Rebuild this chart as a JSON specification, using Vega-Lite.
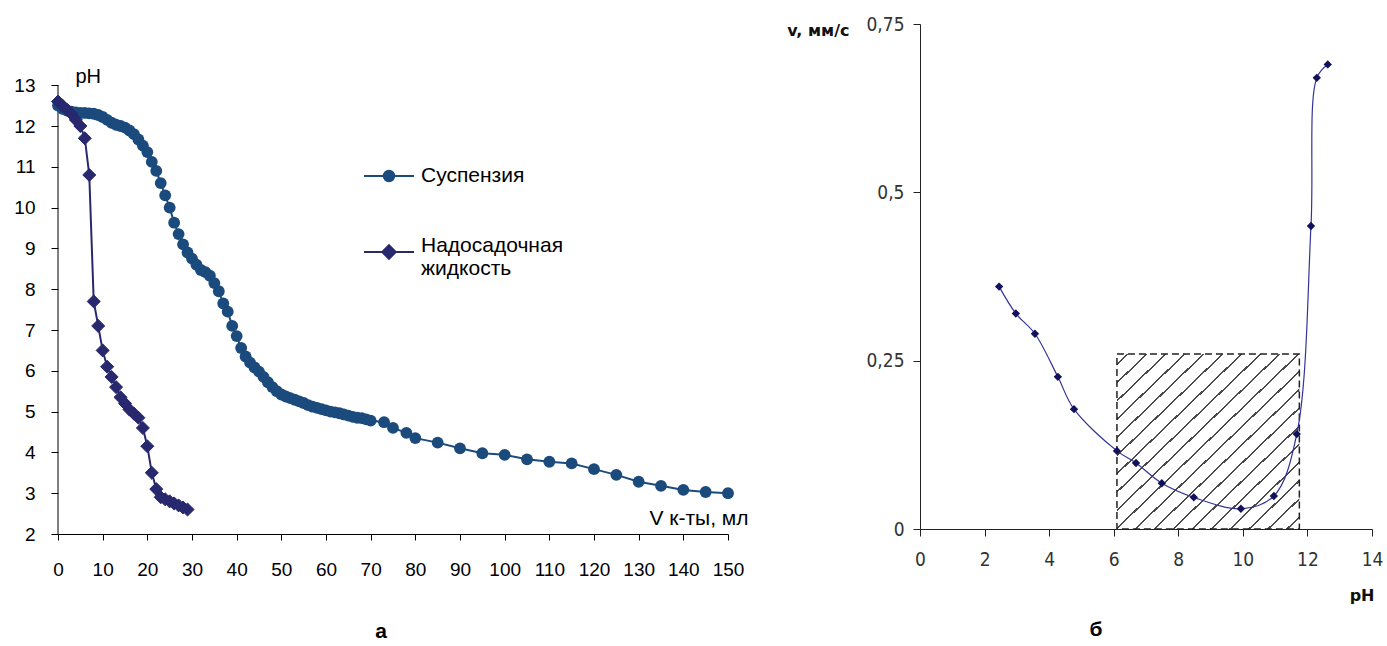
{
  "$schema": "https://vega.github.io/schema/vega-lite/v6.json",
  "background": "white",
  "padding": {"left": 13, "top": 15, "right": 0, "bottom": 0},
  "bounds": "flush",
  "spacing": 192,
  "config": {"view": {"stroke": null}, "axis": {"grid": false}},
  "datasets": {
    "titration": [
      {"series": "Суспензия", "V": 0, "pH": 12.5},
      {"series": "Суспензия", "V": 1, "pH": 12.42},
      {"series": "Суспензия", "V": 2, "pH": 12.38},
      {"series": "Суспензия", "V": 3, "pH": 12.35},
      {"series": "Суспензия", "V": 4, "pH": 12.33},
      {"series": "Суспензия", "V": 5, "pH": 12.32},
      {"series": "Суспензия", "V": 6, "pH": 12.32},
      {"series": "Суспензия", "V": 7, "pH": 12.31},
      {"series": "Суспензия", "V": 8, "pH": 12.3},
      {"series": "Суспензия", "V": 9, "pH": 12.27},
      {"series": "Суспензия", "V": 10, "pH": 12.22},
      {"series": "Суспензия", "V": 11, "pH": 12.15},
      {"series": "Суспензия", "V": 12, "pH": 12.08},
      {"series": "Суспензия", "V": 13, "pH": 12.03},
      {"series": "Суспензия", "V": 14, "pH": 12.0},
      {"series": "Суспензия", "V": 15, "pH": 11.96},
      {"series": "Суспензия", "V": 16, "pH": 11.89},
      {"series": "Суспензия", "V": 17, "pH": 11.8},
      {"series": "Суспензия", "V": 18, "pH": 11.67},
      {"series": "Суспензия", "V": 19, "pH": 11.52},
      {"series": "Суспензия", "V": 20, "pH": 11.36},
      {"series": "Суспензия", "V": 21, "pH": 11.12},
      {"series": "Суспензия", "V": 22, "pH": 10.9},
      {"series": "Суспензия", "V": 23, "pH": 10.6},
      {"series": "Суспензия", "V": 24, "pH": 10.3},
      {"series": "Суспензия", "V": 25, "pH": 10.0},
      {"series": "Суспензия", "V": 26, "pH": 9.63},
      {"series": "Суспензия", "V": 27, "pH": 9.35},
      {"series": "Суспензия", "V": 28, "pH": 9.1},
      {"series": "Суспензия", "V": 29, "pH": 8.9},
      {"series": "Суспензия", "V": 30, "pH": 8.75},
      {"series": "Суспензия", "V": 31, "pH": 8.6},
      {"series": "Суспензия", "V": 32, "pH": 8.47},
      {"series": "Суспензия", "V": 33, "pH": 8.42},
      {"series": "Суспензия", "V": 34, "pH": 8.33},
      {"series": "Суспензия", "V": 35, "pH": 8.15},
      {"series": "Суспензия", "V": 36, "pH": 7.95},
      {"series": "Суспензия", "V": 37, "pH": 7.65},
      {"series": "Суспензия", "V": 38, "pH": 7.45},
      {"series": "Суспензия", "V": 39, "pH": 7.1},
      {"series": "Суспензия", "V": 40, "pH": 6.85},
      {"series": "Суспензия", "V": 41, "pH": 6.56},
      {"series": "Суспензия", "V": 42, "pH": 6.35},
      {"series": "Суспензия", "V": 43, "pH": 6.2},
      {"series": "Суспензия", "V": 44, "pH": 6.08},
      {"series": "Суспензия", "V": 45, "pH": 5.98},
      {"series": "Суспензия", "V": 46, "pH": 5.85},
      {"series": "Суспензия", "V": 47, "pH": 5.72},
      {"series": "Суспензия", "V": 48, "pH": 5.6},
      {"series": "Суспензия", "V": 49, "pH": 5.5},
      {"series": "Суспензия", "V": 50, "pH": 5.42},
      {"series": "Суспензия", "V": 51, "pH": 5.37},
      {"series": "Суспензия", "V": 52, "pH": 5.33},
      {"series": "Суспензия", "V": 53, "pH": 5.29},
      {"series": "Суспензия", "V": 54, "pH": 5.25},
      {"series": "Суспензия", "V": 55, "pH": 5.21},
      {"series": "Суспензия", "V": 56, "pH": 5.16},
      {"series": "Суспензия", "V": 57, "pH": 5.12},
      {"series": "Суспензия", "V": 58, "pH": 5.09},
      {"series": "Суспензия", "V": 59, "pH": 5.06},
      {"series": "Суспензия", "V": 60, "pH": 5.03},
      {"series": "Суспензия", "V": 61, "pH": 5.0},
      {"series": "Суспензия", "V": 62, "pH": 4.98},
      {"series": "Суспензия", "V": 63, "pH": 4.96},
      {"series": "Суспензия", "V": 64, "pH": 4.93},
      {"series": "Суспензия", "V": 65, "pH": 4.9},
      {"series": "Суспензия", "V": 66, "pH": 4.87},
      {"series": "Суспензия", "V": 67, "pH": 4.85},
      {"series": "Суспензия", "V": 68, "pH": 4.84},
      {"series": "Суспензия", "V": 69, "pH": 4.81},
      {"series": "Суспензия", "V": 70, "pH": 4.78},
      {"series": "Суспензия", "V": 73, "pH": 4.74},
      {"series": "Суспензия", "V": 75, "pH": 4.6},
      {"series": "Суспензия", "V": 78, "pH": 4.48},
      {"series": "Суспензия", "V": 80, "pH": 4.35},
      {"series": "Суспензия", "V": 85, "pH": 4.24},
      {"series": "Суспензия", "V": 90, "pH": 4.1},
      {"series": "Суспензия", "V": 95, "pH": 3.98},
      {"series": "Суспензия", "V": 100, "pH": 3.94},
      {"series": "Суспензия", "V": 105, "pH": 3.83},
      {"series": "Суспензия", "V": 110, "pH": 3.77},
      {"series": "Суспензия", "V": 115, "pH": 3.73},
      {"series": "Суспензия", "V": 120, "pH": 3.59},
      {"series": "Суспензия", "V": 125, "pH": 3.45},
      {"series": "Суспензия", "V": 130, "pH": 3.28},
      {"series": "Суспензия", "V": 135, "pH": 3.18},
      {"series": "Суспензия", "V": 140, "pH": 3.08},
      {"series": "Суспензия", "V": 145, "pH": 3.03},
      {"series": "Суспензия", "V": 150, "pH": 3.0},
      {"series": "Надосадочная жидкость", "V": 0, "pH": 12.6},
      {"series": "Надосадочная жидкость", "V": 1, "pH": 12.5},
      {"series": "Надосадочная жидкость", "V": 2, "pH": 12.4},
      {"series": "Надосадочная жидкость", "V": 3, "pH": 12.3},
      {"series": "Надосадочная жидкость", "V": 4, "pH": 12.15},
      {"series": "Надосадочная жидкость", "V": 5, "pH": 12.0},
      {"series": "Надосадочная жидкость", "V": 6, "pH": 11.7},
      {"series": "Надосадочная жидкость", "V": 7, "pH": 10.8},
      {"series": "Надосадочная жидкость", "V": 8, "pH": 7.7},
      {"series": "Надосадочная жидкость", "V": 9, "pH": 7.1},
      {"series": "Надосадочная жидкость", "V": 10, "pH": 6.5},
      {"series": "Надосадочная жидкость", "V": 11, "pH": 6.1},
      {"series": "Надосадочная жидкость", "V": 12, "pH": 5.85},
      {"series": "Надосадочная жидкость", "V": 13, "pH": 5.6},
      {"series": "Надосадочная жидкость", "V": 14, "pH": 5.35},
      {"series": "Надосадочная жидкость", "V": 15, "pH": 5.2},
      {"series": "Надосадочная жидкость", "V": 16, "pH": 5.05},
      {"series": "Надосадочная жидкость", "V": 17, "pH": 4.95},
      {"series": "Надосадочная жидкость", "V": 18, "pH": 4.85},
      {"series": "Надосадочная жидкость", "V": 19, "pH": 4.6},
      {"series": "Надосадочная жидкость", "V": 20, "pH": 4.15},
      {"series": "Надосадочная жидкость", "V": 21, "pH": 3.5},
      {"series": "Надосадочная жидкость", "V": 22, "pH": 3.1},
      {"series": "Надосадочная жидкость", "V": 23, "pH": 2.9},
      {"series": "Надосадочная жидкость", "V": 24, "pH": 2.85},
      {"series": "Надосадочная жидкость", "V": 25, "pH": 2.8},
      {"series": "Надосадочная жидкость", "V": 26, "pH": 2.75},
      {"series": "Надосадочная жидкость", "V": 27, "pH": 2.7},
      {"series": "Надосадочная жидкость", "V": 28, "pH": 2.65},
      {"series": "Надосадочная жидкость", "V": 29, "pH": 2.6}
    ],
    "sedimentation": [
      {"pH": 2.45, "v": 0.36},
      {"pH": 2.97, "v": 0.32},
      {"pH": 3.56, "v": 0.29},
      {"pH": 4.27, "v": 0.226},
      {"pH": 4.77, "v": 0.178},
      {"pH": 6.1, "v": 0.116},
      {"pH": 6.69, "v": 0.098},
      {"pH": 7.49, "v": 0.068},
      {"pH": 8.48, "v": 0.047},
      {"pH": 9.94, "v": 0.03},
      {"pH": 10.96, "v": 0.049},
      {"pH": 11.67, "v": 0.141},
      {"pH": 12.11, "v": 0.45},
      {"pH": 12.29, "v": 0.67},
      {"pH": 12.63, "v": 0.69}
    ],
    "zone": [
      {"pH_from": 6.1, "pH_to": 11.75, "v_from": 0, "v_to": 0.26}
    ]
  },
  "hconcat": [
    {
      "width": 670,
      "height": 510,
      "title": {"text": "а", "orient": "bottom", "anchor": "middle", "font": "Liberation Sans", "fontSize": 21, "fontWeight": "bold", "color": "black", "offset": 42, "dx": -12},
      "layer": [
        {
          "data": {"values": [{}]},
          "mark": {"type": "rule", "color": "black", "strokeWidth": 1},
          "encoding": {
            "x": {"datum": 0, "type": "quantitative", "title": "V к-ты, мл"},
            "y": {"datum": 2, "type": "quantitative", "title": "pH"},
            "y2": {"datum": 13}
          }
        },
        {
          "data": {"name": "titration"},
          "transform": [{"filter": "datum.series === 'Суспензия'"}],
          "mark": {"type": "line", "color": "#1b4a7c", "strokeWidth": 2},
          "encoding": {
            "x": {
              "field": "V", "type": "quantitative", "title": "V к-ты, мл",
              "scale": {"domain": [0, 150], "nice": false, "zero": false},
              "axis": {
                "values": [0, 10, 20, 30, 40, 50, 60, 70, 80, 90, 100, 110, 120, 130, 140, 150],
                "tickSize": 6, "labelPadding": 20, "labelFlush": false, "labelOverlap": false,
                "labelFont": "Liberation Sans", "labelFontSize": 19, "labelColor": "black",
                "domainColor": "black", "tickColor": "black",
                "titleFont": "Liberation Sans", "titleFontSize": 21, "titleFontWeight": "normal", "titleColor": "black",
                "titleAlign": "right", "titleBaseline": "alphabetic", "titleX": 690, "titleY": -10
              }
            },
            "y": {
              "field": "pH", "type": "quantitative", "title": "pH",
              "scale": {"domain": [2, 14.5], "nice": false, "zero": false},
              "axis": {
                "values": [2, 3, 4, 5, 6, 7, 8, 9, 10, 11, 12, 13],
                "domain": false, "tickSize": 7, "labelPadding": 16, "labelOverlap": false,
                "labelFont": "Liberation Sans", "labelFontSize": 19, "labelColor": "black",
                "tickColor": "black",
                "titleFont": "Liberation Sans", "titleFontSize": 20, "titleFontWeight": "normal", "titleColor": "black",
                "titleAngle": 0, "titleAlign": "left", "titleBaseline": "alphabetic", "titleX": 17, "titleY": 58
              }
            }
          }
        },
        {
          "data": {"name": "titration"},
          "transform": [{"filter": "datum.series === 'Суспензия'"}],
          "mark": {"type": "point", "shape": "circle", "filled": true, "size": 140, "opacity": 1},
          "encoding": {
            "x": {"field": "V", "type": "quantitative", "title": "V к-ты, мл"},
            "y": {"field": "pH", "type": "quantitative", "title": "pH"},
            "fill": {
              "field": "series", "type": "nominal",
              "scale": {"domain": ["Суспензия"], "range": ["#1b4a7c"]},
              "legend": {
                "title": null, "orient": "none", "legendX": 305, "legendY": 126,
                "symbolType": "M-1,0H1M-0.21,0A0.21,0.21,0,1,0,0.21,0A0.21,0.21,0,1,0,-0.21,0Z",
                "symbolSize": 2500, "symbolStrokeColor": "#1b4a7c", "symbolStrokeWidth": 2, "symbolOpacity": 1,
                "labelFont": "Liberation Sans", "labelFontSize": 21, "labelColor": "black", "labelOffset": 6,
                "labelBaseline": "middle", "labelLimit": 300
              }
            }
          }
        },
        {
          "data": {"name": "titration"},
          "transform": [{"filter": "datum.series === 'Надосадочная жидкость'"}],
          "mark": {"type": "line", "color": "#28286e", "strokeWidth": 2},
          "encoding": {
            "x": {"field": "V", "type": "quantitative", "title": "V к-ты, мл"},
            "y": {"field": "pH", "type": "quantitative", "title": "pH"}
          }
        },
        {
          "data": {"name": "titration"},
          "transform": [{"filter": "datum.series === 'Надосадочная жидкость'"}],
          "mark": {"type": "point", "shape": "diamond", "filled": true, "fill": "#28286e", "strokeWidth": 1, "size": 170, "opacity": 1},
          "encoding": {
            "x": {"field": "V", "type": "quantitative", "title": "V к-ты, мл"},
            "y": {"field": "pH", "type": "quantitative", "title": "pH"},
            "stroke": {
              "field": "series", "type": "nominal",
              "scale": {"domain": ["Надосадочная жидкость"], "range": ["#28286e"]},
              "legend": {
                "title": null, "orient": "none", "legendX": 305, "legendY": 202,
                "symbolType": "M-1,0H1M0,-0.27L0.27,0L0,0.27L-0.27,0Z",
                "symbolSize": 2500, "symbolFillColor": "#28286e", "symbolStrokeWidth": 2, "symbolOpacity": 1,
                "labelFont": "Liberation Sans", "labelFontSize": 21, "labelColor": "black", "labelOffset": 6,
                "labelBaseline": "alphabetic", "labelLimit": 300,
                "labelExpr": "split(datum.label, ' ')"
              }
            }
          }
        }
      ]
    },
    {
      "width": 452,
      "height": 505,
      "title": {"text": "б", "orient": "bottom", "anchor": "middle", "font": "Liberation Sans", "fontSize": 21, "fontWeight": "bold", "color": "black", "offset": 16, "dx": -50},
      "layer": [
        {
          "data": {"name": "zone"},
          "mark": {
            "type": "rect",
            "stroke": "#222222", "strokeWidth": 1.5, "strokeDash": [7, 4],
            "fill": {
              "gradient": "linear", "x1": 0, "y1": 0, "x2": 1, "y2": 1,
              "stops": [
                {"offset": 0, "color": "#ffffff"},
                {"offset": 0.027, "color": "#ffffff"}, {"offset": 0.027, "color": "#4a4a4a"}, {"offset": 0.033, "color": "#4a4a4a"}, {"offset": 0.033, "color": "#ffffff"},
                {"offset": 0.079, "color": "#ffffff"}, {"offset": 0.079, "color": "#4a4a4a"}, {"offset": 0.085, "color": "#4a4a4a"}, {"offset": 0.085, "color": "#ffffff"},
                {"offset": 0.131, "color": "#ffffff"}, {"offset": 0.131, "color": "#4a4a4a"}, {"offset": 0.137, "color": "#4a4a4a"}, {"offset": 0.137, "color": "#ffffff"},
                {"offset": 0.183, "color": "#ffffff"}, {"offset": 0.183, "color": "#4a4a4a"}, {"offset": 0.189, "color": "#4a4a4a"}, {"offset": 0.189, "color": "#ffffff"},
                {"offset": 0.235, "color": "#ffffff"}, {"offset": 0.235, "color": "#4a4a4a"}, {"offset": 0.241, "color": "#4a4a4a"}, {"offset": 0.241, "color": "#ffffff"},
                {"offset": 0.287, "color": "#ffffff"}, {"offset": 0.287, "color": "#4a4a4a"}, {"offset": 0.293, "color": "#4a4a4a"}, {"offset": 0.293, "color": "#ffffff"},
                {"offset": 0.339, "color": "#ffffff"}, {"offset": 0.339, "color": "#4a4a4a"}, {"offset": 0.345, "color": "#4a4a4a"}, {"offset": 0.345, "color": "#ffffff"},
                {"offset": 0.391, "color": "#ffffff"}, {"offset": 0.391, "color": "#4a4a4a"}, {"offset": 0.397, "color": "#4a4a4a"}, {"offset": 0.397, "color": "#ffffff"},
                {"offset": 0.443, "color": "#ffffff"}, {"offset": 0.443, "color": "#4a4a4a"}, {"offset": 0.449, "color": "#4a4a4a"}, {"offset": 0.449, "color": "#ffffff"},
                {"offset": 0.495, "color": "#ffffff"}, {"offset": 0.495, "color": "#4a4a4a"}, {"offset": 0.501, "color": "#4a4a4a"}, {"offset": 0.501, "color": "#ffffff"},
                {"offset": 0.547, "color": "#ffffff"}, {"offset": 0.547, "color": "#4a4a4a"}, {"offset": 0.553, "color": "#4a4a4a"}, {"offset": 0.553, "color": "#ffffff"},
                {"offset": 0.599, "color": "#ffffff"}, {"offset": 0.599, "color": "#4a4a4a"}, {"offset": 0.605, "color": "#4a4a4a"}, {"offset": 0.605, "color": "#ffffff"},
                {"offset": 0.651, "color": "#ffffff"}, {"offset": 0.651, "color": "#4a4a4a"}, {"offset": 0.657, "color": "#4a4a4a"}, {"offset": 0.657, "color": "#ffffff"},
                {"offset": 0.703, "color": "#ffffff"}, {"offset": 0.703, "color": "#4a4a4a"}, {"offset": 0.709, "color": "#4a4a4a"}, {"offset": 0.709, "color": "#ffffff"},
                {"offset": 0.755, "color": "#ffffff"}, {"offset": 0.755, "color": "#4a4a4a"}, {"offset": 0.761, "color": "#4a4a4a"}, {"offset": 0.761, "color": "#ffffff"},
                {"offset": 0.807, "color": "#ffffff"}, {"offset": 0.807, "color": "#4a4a4a"}, {"offset": 0.813, "color": "#4a4a4a"}, {"offset": 0.813, "color": "#ffffff"},
                {"offset": 0.859, "color": "#ffffff"}, {"offset": 0.859, "color": "#4a4a4a"}, {"offset": 0.865, "color": "#4a4a4a"}, {"offset": 0.865, "color": "#ffffff"},
                {"offset": 0.911, "color": "#ffffff"}, {"offset": 0.911, "color": "#4a4a4a"}, {"offset": 0.917, "color": "#4a4a4a"}, {"offset": 0.917, "color": "#ffffff"},
                {"offset": 0.963, "color": "#ffffff"}, {"offset": 0.963, "color": "#4a4a4a"}, {"offset": 0.969, "color": "#4a4a4a"}, {"offset": 0.969, "color": "#ffffff"},
                {"offset": 1, "color": "#ffffff"}
              ]
            }
          },
          "encoding": {
            "x": {
              "field": "pH_from", "type": "quantitative", "title": "pH",
              "scale": {"domain": [0, 14], "nice": false, "zero": false},
              "axis": {
                "values": [0, 2, 4, 6, 8, 10, 12, 14],
                "tickSize": 7, "labelPadding": 14, "labelFlush": false, "labelOverlap": false,
                "labelFont": "DejaVu Sans Condensed, DejaVu Sans", "labelFontSize": 19, "labelColor": "#333333",
                "domainColor": "#222222", "tickColor": "#222222",
                "titleFont": "DejaVu Sans", "titleFontSize": 16, "titleFontWeight": "bold", "titleColor": "#111111",
                "titleAlign": "right", "titleBaseline": "alphabetic", "titleX": 454, "titleY": 71
              }
            },
            "x2": {"field": "pH_to"},
            "y": {
              "field": "v_from", "type": "quantitative", "title": "v, мм/с",
              "scale": {"domain": [0, 0.75], "nice": false},
              "axis": {
                "values": [0, 0.25, 0.5, 0.75],
                "labelExpr": "replace(format(datum.value, '.2~f'), '.', ',')",
                "tickSize": 7, "labelPadding": 9, "labelOverlap": false,
                "labelFont": "DejaVu Sans Condensed, DejaVu Sans", "labelFontSize": 19, "labelColor": "#333333",
                "domainColor": "#222222", "tickColor": "#222222",
                "titleFont": "DejaVu Sans", "titleFontSize": 16, "titleFontWeight": "bold", "titleColor": "#111111",
                "titleAngle": 0, "titleAlign": "right", "titleBaseline": "alphabetic", "titleX": -71, "titleY": 11
              }
            },
            "y2": {"field": "v_to"}
          }
        },
        {
          "data": {"name": "sedimentation"},
          "mark": {"type": "line", "interpolate": "catmull-rom", "color": "#333399", "strokeWidth": 1.2},
          "encoding": {
            "x": {"field": "pH", "type": "quantitative", "title": "pH"},
            "y": {"field": "v", "type": "quantitative", "title": "v, мм/с"}
          }
        },
        {
          "data": {"name": "sedimentation"},
          "mark": {"type": "point", "shape": "diamond", "filled": true, "color": "#12125c", "size": 70, "opacity": 1},
          "encoding": {
            "x": {"field": "pH", "type": "quantitative", "title": "pH"},
            "y": {"field": "v", "type": "quantitative", "title": "v, мм/с"}
          }
        }
      ]
    }
  ]
}
